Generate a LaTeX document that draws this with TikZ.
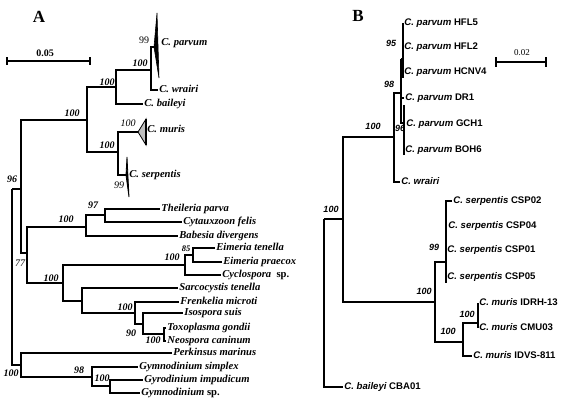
\documentclass[tikz,border=0pt]{standalone}
\usepackage{fontspec}
\setmainfont{Liberation Serif}
\setsansfont{Liberation Sans}

\tikzset{
  branch/.style={black,line width=1.5pt},
  branchB/.style={black,line width=1.2pt},
  taxon/.style={anchor=west,inner sep=1.2pt,text height=7pt,text depth=2pt,
    font=\fontsize{10.6}{12}\selectfont\bfseries\itshape},
  taxonB/.style={anchor=west,inner sep=1.2pt,text height=7pt,text depth=2pt,
    font=\fontsize{9.6}{11}\selectfont\sffamily\bfseries},
  boot/.style={inner sep=0pt,font=\fontsize{10}{12}\selectfont\bfseries\itshape},
  bootlight/.style={inner sep=0pt,font=\fontsize{10}{12}\selectfont\itshape},
  bootB/.style={inner sep=0pt,font=\fontsize{9}{11}\selectfont\sffamily\bfseries\itshape},
  panel/.style={inner sep=0pt,font=\fontsize{17}{20}\selectfont\bfseries}
}

\begin{document}
\begin{tikzpicture}[x=1pt,y=-1pt]
  \useasboundingbox (0,0) rectangle (569,404);

  % panel letters
  \node[panel] (lblA) at (39,17) {A};
  \node[panel] (lblB) at (358,16) {B};

  % scale bars
  \draw[branch] (7,57) -- (7,65) (7,61) -- (90,61) (90,57) -- (90,65);
  \node[inner sep=0pt,font=\fontsize{10}{12}\selectfont\bfseries] (barA) at (45,53) {0.05};
  \draw[branchB] (496,57) -- (496,67) (496,62) -- (546,62) (546,57) -- (546,67);
  \node[inner sep=0pt,font=\fontsize{9}{11}\selectfont] (barB) at (522,53) {0.02};

  %%% tree A : internal nodes
  \coordinate (R)    at (12,189);
  \coordinate (A96)  at (21,189);
  \coordinate (Cry)  at (87,120);
  \coordinate (C1)   at (116,87);
  \coordinate (Cpw)  at (151,70);
  \coordinate (C2)   at (118,152);
  \coordinate (A77)  at (27,253);
  \coordinate (Pir)  at (86,227);
  \coordinate (Th)   at (105,215);
  \coordinate (Coc)  at (63,283);
  \coordinate (Eim)  at (185,265);
  \coordinate (E85)  at (193,255);
  \coordinate (Sar)  at (82,301);
  \coordinate (Fre)  at (135,313);
  \coordinate (Iso)  at (143,324);
  \coordinate (Tox)  at (164,334);
  \coordinate (P100) at (21,365);
  \coordinate (Gy)   at (92,377);
  \coordinate (Gy2)  at (110,386);
  \coordinate (parA) at (154,47);
  \coordinate (murA) at (138,132);
  \coordinate (serA) at (126,175);

  % leaves
  \node[taxon] (wrairi)   at (158,90)  {C. wrairi};
  \node[taxon] (baileyi)  at (143,104) {C. baileyi};
  \node[taxon] (theil)    at (160,209) {Theileria parva};
  \node[taxon] (cytaux)   at (182,222) {Cytauxzoon felis};
  \node[taxon] (babesia)  at (178,236) {Babesia divergens};
  \node[taxon] (etenella) at (215,248) {Eimeria tenella};
  \node[taxon] (epraecox) at (222,262) {Eimeria praecox};
  \node[taxon] (cyclo)    at (221,275) {Cyclospora\upshape\ \ sp.};
  \node[taxon] (sarco)    at (178,288) {Sarcocystis tenella};
  \node[taxon] (frenk)    at (179,302) {Frenkelia microti};
  \node[taxon] (isosp)    at (183,313) {Isospora suis};
  \node[taxon] (toxo)     at (166,328) {Toxoplasma gondii};
  \node[taxon] (neosp)    at (166,341) {Neospora caninum};
  \node[taxon] (perk)     at (172,353) {Perkinsus marinus};
  \node[taxon] (gsimp)    at (138,367) {Gymnodinium simplex};
  \node[taxon] (gyro)     at (143,380) {Gyrodinium impudicum};
  \node[taxon] (gsp)      at (140,393) {Gymnodinium\upshape\ sp.};
  \node[taxon] (parvum)   at (160,43)  {C. parvum};
  \node[taxon] (muris)    at (146,130) {C. muris};
  \node[taxon] (serp)     at (128,175) {C. serpentis};

  % branches
  \draw[branch] (R) |- (P100);
  \draw[branch] (R) -- (A96);
  \draw[branch] (A96) |- (Cry) (A96) |- (A77);
  \draw[branch] (Cry) |- (C1) (Cry) |- (C2);
  \draw[branch] (C1) |- (Cpw) (C1) |- (baileyi);
  \draw[branch] (Cpw) |- (parA) (Cpw) |- (wrairi);
  \draw[branch] (C2) |- (murA) (C2) |- (serA);
  \draw[branch] (A77) |- (Pir) (A77) |- (Coc);
  \draw[branch] (Pir) |- (Th) (Pir) |- (babesia);
  \draw[branch] (Th) |- (theil) (Th) |- (cytaux);
  \draw[branch] (Coc) |- (Eim) (Coc) |- (Sar);
  \draw[branch] (Eim) |- (E85) (Eim) |- (cyclo);
  \draw[branch] (E85) |- (etenella) (E85) |- (epraecox);
  \draw[branch] (Sar) |- (sarco) (Sar) |- (Fre);
  \draw[branch] (Fre) |- (frenk) (Fre) |- (Iso);
  \draw[branch] (Iso) |- (isosp) (Iso) |- (Tox);
  \draw[branch] (Tox) |- (toxo) (Tox) |- (neosp);
  \draw[branch] (P100) |- (perk) (P100) |- (Gy);
  \draw[branch] (Gy) |- (gsimp) (Gy) |- (Gy2);
  \draw[branch] (Gy2) |- (gyro) (Gy2) |- (gsp);

  % collapsed clades
  \filldraw[line width=0.6pt] (parA) -- (157,13) -- (159,78) -- cycle;
  \filldraw[fill=black!25,line width=0.8pt] (murA) -- (146,119) -- (146,145) -- cycle;
  \draw[line width=1.6pt] (146,119) -- (146,145);
  \filldraw[line width=0.8pt] (serA) -- (127,157) -- (129,197) -- cycle;

  % bootstrap values A
  \node[font=\fontsize{10}{12}\selectfont,inner sep=0pt] (b1) at (144,40) {99};
  \foreach \x/\y/\v [count=\i] in {140/63/100, 107/82/100, 72/113/100, 107/145/100,
      12/179/96, 93/205/97, 66/219/100, 172/257/100, 51/278/100, 125/307/100,
      131/333/90, 153/340/100, 11/373/100, 79/370/98, 102/378/100}
    \node[boot] (bA\i) at (\x,\y) {\v};
  \node[bootlight] (b2) at (128,123) {100};
  \node[bootlight] (b3) at (119,185) {99};
  \node[bootlight] (b4) at (20,263) {77};
  \node[boot,font=\fontsize{8.5}{10}\selectfont\bfseries\itshape] (b5) at (186,249) {85};

  %%% tree B
  \coordinate (RB)   at (324,219);
  \coordinate (Bn1)  at (343,219);
  \coordinate (Bpar) at (394,137);
  \coordinate (B98)  at (401,93);
  \coordinate (B98t) at (401,59);
  \coordinate (B95)  at (403,59);
  \coordinate (B95b) at (403,78);
  \coordinate (B96)  at (404,123);
  \coordinate (B96t) at (404,105);
  \coordinate (B96b) at (404,155);
  \coordinate (Bser) at (435,302);
  \coordinate (B99)  at (446,262);
  \coordinate (B99b) at (446,283);
  \coordinate (Bmu)  at (463,342);
  \coordinate (Bmu2) at (478,323);

  \node[taxonB] (hfl5)  at (403,23)  {\itshape C. parvum\upshape\ HFL5};
  \node[taxonB] (hfl2)  at (403,47)  {\itshape C. parvum\upshape\ HFL2};
  \node[taxonB] (hcnv4) at (403,72)  {\itshape C. parvum\upshape\ HCNV4};
  \node[taxonB] (dr1)   at (404,98)  {\itshape C. parvum\upshape\ DR1};
  \node[taxonB] (gch1)  at (405,124) {\itshape C. parvum\upshape\ GCH1};
  \node[taxonB] (boh6)  at (404,150) {\itshape C. parvum\upshape\ BOH6};
  \node[taxonB] (wrB)   at (400,182) {\itshape C. wrairi};
  \node[taxonB] (csp02) at (452,201) {\itshape C. serpentis\upshape\ CSP02};
  \node[taxonB] (csp04) at (447,226) {\itshape C. serpentis\upshape\ CSP04};
  \node[taxonB] (csp01) at (446,250) {\itshape C. serpentis\upshape\ CSP01};
  \node[taxonB] (csp05) at (446,277) {\itshape C. serpentis\upshape\ CSP05};
  \node[taxonB] (idrh)  at (478,303) {\itshape C. muris\upshape\ IDRH-13};
  \node[taxonB] (cmu)   at (478,328) {\itshape C. muris\upshape\ CMU03};
  \node[taxonB] (idvs)  at (472,356) {\itshape C. muris\upshape\ IDVS-811};
  \node[taxonB] (baiB)  at (343,387) {\itshape C. baileyi\upshape\ CBA01};

  \draw[branchB] (RB) -- (Bn1) (RB) |- (baiB);
  \draw[branchB] (Bn1) |- (Bpar) (Bn1) |- (Bser);
  \draw[branchB] (Bpar) |- (B98) (Bpar) |- (wrB);
  \draw[branchB] (B98t) -- (B95) (B98) |- (dr1) (B98) |- (B96);
  \draw[branchB] (B98t) -- (B98);
  \draw[branchB] (hfl5.west) |- (B95b) (B95) |- (hfl2) (B95) |- (hcnv4);
  \draw[branchB] (B96t) -- (B96b) (B96) |- (gch1) (B96b) |- (boh6);
  \draw[branchB] (Bser) |- (B99) (Bser) |- (Bmu);
  \draw[branchB] (B99) |- (csp02) (B99) |- (csp04) (B99) |- (csp01);
  \draw[branchB] (B99) -- (B99b) (B99) |- (csp05);
  \draw[branchB] (Bmu) |- (Bmu2) (Bmu) |- (idvs);
  \draw[branchB] (Bmu2) |- (idrh) (Bmu2) |- (cmu);

  % bootstrap values B
  \foreach \x/\y/\v [count=\i] in {331/209/100, 373/126/100, 389/84/98, 391/43/95,
      400/128/96, 424/291/100, 434/247/99, 448/331/100, 467/314/100}
    \node[bootB] (bB\i) at (\x,\y) {\v};

\end{tikzpicture}
\end{document}
